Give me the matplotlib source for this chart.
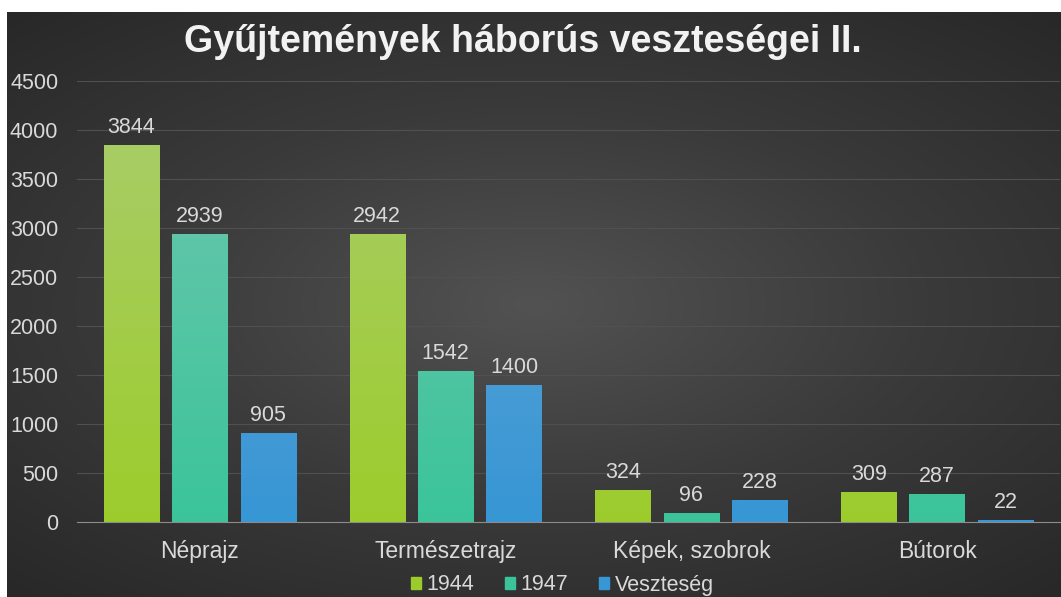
import numpy as np
import matplotlib.pyplot as plt
from matplotlib.patches import Patch

categories = ['Néprajz', 'Természetrajz', 'Képek, szobrok', 'Bútorok']
series_names = ['1944', '1947', 'Veszteség']
v1944 = [3844, 2942, 324, 309]
v1947 = [2939, 1542, 96, 287]
vloss = [905, 1400, 228, 22]
title = 'Gyűjtemények háborús veszteségei II.'

# top / bottom colours of each bar gradient
grad = [('#aacd6e', '#9ccc2c'), ('#72c7b0', '#3bc49a'), ('#6aa8d6', '#3796d4')]

plt.rcParams['font.family'] = ['Liberation Sans', 'DejaVu Sans']

fig = plt.figure(figsize=(10.61, 5.97), dpi=100)
fig.patch.set_facecolor('white')

# dark radial background
bg = fig.add_axes([7/1061, 0, 1 - 7/1061, 1 - 12/597])
yy, xx = np.mgrid[-1:1:300j, -1:1:500j]
r = np.sqrt((xx * 0.9) ** 2 + (yy * 1.0) ** 2)
bg.imshow(np.clip(r, 0, 1.4), cmap=plt.cm.colors.LinearSegmentedColormap.from_list(
    'bg', ['#525252', '#3a3a3a', '#282828']), aspect='auto', extent=[0, 1, 0, 1])
bg.axis('off')

ax = fig.add_axes([77/1061, 75/597, 983/1061, 441/597])
ax.set_facecolor('none')

x = np.arange(len(categories))
w = 0.225
off = 0.278
for i, vals in enumerate([v1944, v1947, vloss]):
    bars = ax.bar(x + (i - 1) * off, vals, w, color='none', zorder=3)
    cmap = plt.cm.colors.LinearSegmentedColormap.from_list('g%d' % i, [grad[i][1], grad[i][0]])
    for b, v in zip(bars, vals):
        im = ax.imshow(np.linspace(0, 1, 100).reshape(-1, 1), cmap=cmap, origin='lower',
                       aspect='auto', extent=[b.get_x(), b.get_x() + w, 0, 4500],
                       zorder=3)
        im.set_clip_path(b)
        ax.text(b.get_x() + w / 2, v + 70, str(v), ha='center', va='bottom',
                color='#d9d9d9', fontsize=15.5)

ax.set_xlim(-0.5, 3.5)
ax.set_ylim(0, 4500)
ax.set_yticks(np.arange(0, 4501, 500))
ax.set_xticks(x)
ax.set_xticklabels(categories, fontsize=16.5)
ax.tick_params(axis='both', length=0, colors='#d9d9d9')
ax.tick_params(axis='y', labelsize=15.5, pad=13.5)
ax.tick_params(axis='x', pad=13)
ax.grid(axis='y', color='#505050', linewidth=0.8, zorder=0)
for s in ['top', 'right', 'left']:
    ax.spines[s].set_visible(False)
ax.spines['bottom'].set_color('#8c8c8c')
ax.spines['bottom'].set_zorder(4)

fig.text(0.493, 1 - 42/597, title, ha='center', va='center', color='#f2f2f2',
         fontsize=27, fontweight='bold')

handles = [Patch(color=grad[i][1]) for i in range(3)]
fig.legend(handles, series_names, loc='center', bbox_to_anchor=(0.53, 12/597),
           ncol=3, frameon=False, fontsize=15.5, labelcolor='#d9d9d9',
           handlelength=0.5, handleheight=0.5, handletextpad=0.25, columnspacing=1.4)

fig.savefig('out.png', dpi=100)
